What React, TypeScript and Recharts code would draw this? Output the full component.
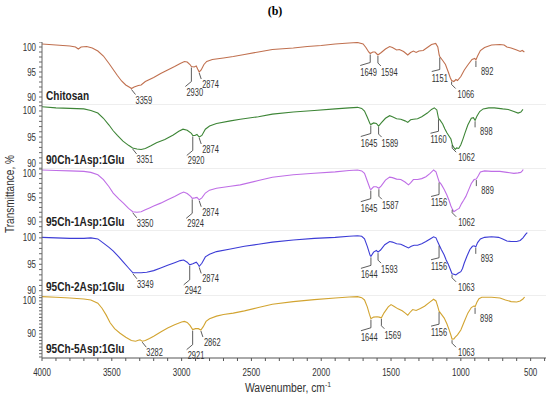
import { LineChart, Line, XAxis, YAxis, ReferenceLine, ReferenceDot } from 'recharts'

// spectra: [wavenumber cm-1, transmittance %]
const CHITOSAN: [number, number][] = [
  [4000, 100.6], [3900, 100.4], [3800, 100.2], [3760, 100.0], [3740, 99.6], [3720, 100.0], [3680, 100.1],
  [3640, 99.8], [3600, 99.2], [3560, 98.2], [3520, 96.7], [3490, 95.5], [3460, 94.3], [3430, 93.2],
  [3400, 92.4], [3370, 91.9], [3359, 91.7], [3340, 92.0], [3310, 92.3], [3290, 92.4], [3260, 93.1],
  [3200, 93.9], [3150, 94.7], [3100, 95.4], [3050, 96.1], [3010, 96.7], [2980, 97.1], [2960, 97.0],
  [2940, 96.5], [2930, 96.1], [2910, 96.0], [2895, 96.2], [2885, 95.6], [2874, 95.0], [2860, 95.4],
  [2840, 96.5], [2820, 97.1], [2780, 97.5], [2700, 97.8], [2630, 98.1], [2550, 98.5], [2450, 99.0],
  [2350, 99.5], [2200, 99.8], [2100, 100.1], [2000, 100.3], [1900, 100.6], [1800, 100.8], [1740, 100.9],
  [1700, 100.6], [1680, 99.9], [1660, 99.0], [1649, 98.7], [1630, 99.0], [1615, 99.0], [1594, 98.4],
  [1570, 98.9], [1540, 99.6], [1510, 100.1], [1490, 99.9], [1460, 99.4], [1440, 99.5], [1410, 99.1],
  [1380, 98.4], [1360, 98.9], [1340, 99.2], [1320, 98.9], [1300, 99.2], [1270, 99.3], [1240, 99.9],
  [1210, 100.5], [1180, 100.7], [1165, 100.0], [1155, 98.4], [1151, 98.1], [1130, 97.3], [1110, 96.5],
  [1090, 95.0], [1075, 93.8], [1066, 93.3], [1050, 93.1], [1035, 93.5], [1024, 93.3], [1000, 94.1],
  [975, 95.4], [950, 96.4], [920, 97.5], [900, 97.7], [892, 97.4], [880, 98.2], [860, 99.3], [830, 99.9],
  [780, 100.4], [720, 100.5], [690, 100.4], [670, 100.0], [640, 99.8], [600, 99.4], [575, 99.1],
  [560, 99.3], [545, 99.0],
]

const CH90_ASP1_GLU1: [number, number][] = [
  [4000, 100.8], [3900, 100.6], [3800, 100.5], [3700, 100.4], [3650, 100.1], [3600, 99.6], [3560, 98.6],
  [3520, 97.3], [3490, 96.2], [3460, 95.3], [3420, 94.2], [3380, 93.4], [3351, 92.9], [3320, 92.7],
  [3290, 92.6], [3260, 92.8], [3220, 93.3], [3180, 93.9], [3120, 94.5], [3060, 95.4], [3020, 96.1],
  [2990, 96.5], [2960, 96.3], [2930, 95.7], [2920, 95.3], [2905, 95.3], [2890, 95.5], [2874, 95.0],
  [2855, 95.3], [2830, 96.5], [2800, 97.1], [2750, 97.6], [2650, 98.1], [2580, 98.4], [2450, 98.9],
  [2350, 99.4], [2200, 99.8], [2050, 100.1], [1900, 100.4], [1800, 100.6], [1740, 100.7], [1710, 100.5],
  [1690, 100.0], [1670, 98.8], [1650, 97.5], [1645, 97.4], [1625, 97.7], [1605, 97.6], [1589, 97.1],
  [1570, 97.7], [1540, 98.6], [1510, 99.1], [1490, 98.9], [1460, 98.5], [1430, 98.4], [1400, 98.1],
  [1380, 97.8], [1360, 98.3], [1340, 98.4], [1310, 98.5], [1280, 98.9], [1240, 99.6], [1210, 100.3],
  [1190, 100.6], [1172, 100.2], [1160, 98.6], [1150, 98.3], [1130, 97.5], [1115, 96.6], [1100, 95.8],
  [1085, 95.2], [1071, 94.6], [1060, 93.4], [1048, 92.9], [1040, 92.6], [1030, 92.9], [1015, 92.8],
  [1000, 93.5], [985, 94.6], [970, 95.8], [950, 97.3], [925, 98.6], [910, 98.7], [898, 98.2], [885, 99.0],
  [865, 99.9], [840, 100.4], [800, 100.6], [760, 100.6], [700, 100.4], [660, 100.3], [620, 99.9],
  [590, 99.6], [570, 99.8], [555, 100.3],
]

const CH95_ASP1_GLU1: [number, number][] = [
  [4000, 100.8], [3900, 100.7], [3800, 100.6], [3700, 100.5], [3650, 100.3], [3600, 99.8], [3560, 98.8],
  [3520, 97.3], [3490, 96.0], [3450, 94.8], [3417, 93.9], [3380, 92.8], [3350, 92.1], [3320, 92.0],
  [3290, 92.1], [3260, 92.5], [3230, 92.9], [3200, 93.3], [3150, 93.9], [3100, 94.6], [3050, 95.3],
  [3010, 95.9], [2985, 96.2], [2960, 95.9], [2935, 95.3], [2924, 94.9], [2905, 95.0], [2890, 95.1],
  [2874, 94.6], [2855, 95.0], [2830, 96.0], [2800, 96.6], [2750, 97.0], [2650, 97.4], [2580, 97.7],
  [2450, 98.6], [2350, 99.3], [2200, 99.8], [2050, 100.1], [1900, 100.4], [1800, 100.7], [1740, 100.8],
  [1710, 100.6], [1690, 100.1], [1670, 98.5], [1650, 96.9], [1645, 96.7], [1625, 97.3], [1605, 97.3],
  [1587, 97.0], [1570, 97.5], [1540, 98.7], [1510, 99.3], [1490, 99.2], [1460, 98.9], [1430, 98.8],
  [1400, 98.3], [1375, 97.7], [1360, 98.1], [1340, 98.8], [1310, 98.8], [1280, 99.0], [1250, 99.4],
  [1220, 100.1], [1195, 100.8], [1178, 100.4], [1165, 99.2], [1156, 98.4], [1140, 97.8], [1120, 96.8],
  [1100, 95.6], [1085, 94.5], [1071, 93.3], [1060, 92.6], [1050, 92.1], [1040, 92.3], [1025, 92.6],
  [1012, 92.8], [995, 93.8], [980, 94.5], [964, 95.3], [945, 96.6], [925, 98.0], [905, 98.8], [889, 98.9],
  [875, 99.6], [860, 100.4], [830, 100.6], [780, 100.5], [720, 100.5], [670, 100.3], [620, 100.1],
  [590, 100.2], [571, 100.3], [560, 100.6], [553, 100.9],
]

const CH95_ASP2_GLU1: [number, number][] = [
  [4000, 100.1], [3900, 100.0], [3800, 99.9], [3700, 99.9], [3650, 100.0], [3600, 99.8], [3560, 99.0],
  [3520, 98.2], [3489, 97.5], [3450, 96.4], [3417, 95.4], [3380, 94.3], [3349, 93.4], [3320, 93.4],
  [3290, 93.4], [3250, 93.5], [3200, 93.8], [3150, 94.3], [3100, 94.8], [3050, 95.3], [3010, 95.7],
  [2985, 95.8], [2960, 95.4], [2942, 94.9], [2920, 95.1], [2895, 95.4], [2885, 95.1], [2874, 94.6],
  [2855, 95.2], [2830, 96.4], [2800, 96.9], [2750, 97.4], [2650, 97.9], [2550, 98.4], [2450, 98.8],
  [2350, 99.2], [2200, 99.6], [2050, 99.9], [1900, 100.1], [1800, 100.3], [1740, 100.4], [1710, 100.3],
  [1690, 99.8], [1670, 98.4], [1650, 96.7], [1644, 96.5], [1625, 97.3], [1605, 97.6], [1593, 97.3],
  [1575, 97.7], [1545, 98.7], [1510, 99.3], [1490, 99.2], [1460, 98.9], [1430, 98.8], [1400, 98.4],
  [1375, 98.1], [1355, 98.4], [1335, 98.6], [1310, 98.6], [1280, 98.9], [1250, 99.3], [1220, 99.8],
  [1195, 100.2], [1178, 100.0], [1165, 99.2], [1156, 98.7], [1140, 97.8], [1120, 96.8], [1105, 95.8],
  [1090, 95.0], [1075, 94.0], [1063, 93.2], [1050, 93.1], [1036, 93.0], [1020, 93.3], [1000, 93.6],
  [988, 94.2], [976, 95.2], [955, 96.6], [935, 97.8], [917, 98.4], [905, 98.5], [893, 98.3], [880, 99.1],
  [860, 99.8], [830, 100.1], [780, 100.2], [730, 100.1], [700, 99.8], [670, 99.4], [640, 99.3],
  [600, 99.3], [575, 99.5], [555, 100.0], [535, 100.7], [524, 101.0],
]

const CH95_ASP5_GLU1: [number, number][] = [
  [4000, 101.3], [3900, 101.1], [3800, 100.9], [3700, 100.6], [3650, 100.3], [3600, 99.3], [3570, 97.8],
  [3540, 95.7], [3512, 93.4], [3480, 91.6], [3441, 90.2], [3400, 89.0], [3360, 88.0], [3330, 87.8],
  [3310, 88.1], [3298, 88.2], [3282, 87.8], [3260, 88.0], [3230, 88.6], [3200, 89.3], [3150, 90.6],
  [3100, 91.8], [3050, 92.8], [3000, 93.6], [2980, 93.8], [2960, 93.5], [2940, 92.6], [2921, 91.3],
  [2900, 91.6], [2880, 91.6], [2862, 91.2], [2845, 92.2], [2825, 93.8], [2800, 94.6], [2750, 95.4],
  [2700, 95.9], [2630, 96.3], [2550, 97.0], [2450, 98.0], [2350, 99.0], [2200, 99.8], [2050, 100.4],
  [1900, 100.9], [1800, 101.2], [1740, 101.3], [1710, 101.0], [1690, 100.3], [1670, 98.2], [1655, 96.0],
  [1644, 94.6], [1625, 95.1], [1600, 95.2], [1585, 95.1], [1569, 94.9], [1550, 96.4], [1520, 98.2],
  [1500, 98.9], [1480, 98.4], [1450, 97.6], [1420, 97.0], [1400, 96.4], [1380, 95.7], [1365, 96.5],
  [1345, 97.4], [1320, 97.1], [1290, 97.7], [1260, 98.4], [1220, 99.7], [1195, 100.5], [1178, 100.0],
  [1165, 98.3], [1156, 96.9], [1140, 96.0], [1119, 94.8], [1100, 93.1], [1085, 91.4], [1071, 89.6],
  [1063, 88.4], [1050, 88.5], [1040, 89.0], [1024, 89.7], [1000, 91.2], [976, 93.7], [950, 96.3],
  [925, 98.0], [905, 98.5], [898, 98.2], [885, 99.6], [870, 100.7], [850, 101.1], [780, 101.1],
  [720, 100.9], [680, 100.3], [640, 99.8], [600, 99.7], [575, 100.0], [555, 100.6], [543, 101.2],
]

// labelled band positions, cm-1
const PEAKS_CHITOSAN = [3359, 2930, 2874, 1649, 1594, 1151, 1066, 892]
const PEAKS_90_1_1 = [3351, 2920, 2874, 1645, 1589, 1160, 1062, 898]
const PEAKS_95_1_1 = [3350, 2924, 2874, 1645, 1587, 1156, 1062, 889]
const PEAKS_95_2_1 = [3349, 2942, 2874, 1644, 1593, 1156, 1063, 893]
const PEAKS_95_5_1 = [3282, 2921, 2862, 1644, 1569, 1156, 1063, 898]

const SAMPLE_NAMES = ['Chitosan', '90Ch-1Asp:1Glu', '95Ch-1Asp:1Glu', '95Ch-2Asp:1Glu', '95Ch-5Asp:1Glu']
const X_TICKS = [4000, 3500, 3000, 2500, 2000, 1500, 1000, 500]

// leader shape for each band (same order as the peak lists): drop, dx, dy, text dx, text dy
const LEADERS = [
  [0, 4, 5, 0, 9],
  [14, -6, 5, 1, 9],
  [0, 2, 6, 1, 9],
  [8, -10, 3, 0, 10],
  [7, 3, 3, 0, 10],
  [12, -8, 2, 0, 10],
  [3, 4, 4, 2, 9],
  [6, 0, 0, 5, 8],
]

const FONT = 'Arial, "Liberation Sans", sans-serif'
const X_DOMAIN: [number, number] = [390, 4000]

const PANELS = [
  { series: CHITOSAN, peaks: PEAKS_CHITOSAN, color: '#c0704f', top: 42, h: 63, domain: [88.4, 101], labels: [90, 95, 100] },
  { series: CH90_ASP1_GLU1, peaks: PEAKS_90_1_1, color: '#3d8536', top: 105, h: 64, domain: [88.85, 101.15], labels: [90, 95, 100] },
  { series: CH95_ASP1_GLU1, peaks: PEAKS_95_1_1, color: '#bf6ee6', top: 169, h: 62, domain: [88.1, 101], labels: [90, 95, 100] },
  { series: CH95_ASP2_GLU1, peaks: PEAKS_95_2_1, color: '#3c3cd6', top: 231, h: 65, domain: [89, 101.3], labels: [90, 95, 100] },
  { series: CH95_ASP5_GLU1, peaks: PEAKS_95_5_1, color: '#d2a431', top: 296, h: 62, domain: [82.7, 101.5], labels: [90, 100] },
]

function valueAt(series: [number, number][], w: number) {
  for (let i = 0; i < series.length - 1; i++) {
    const [w0, t0] = series[i]
    const [w1, t1] = series[i + 1]
    if (w <= w0 && w >= w1) return t0 + ((w - w0) / (w1 - w0)) * (t1 - t0)
  }
  return series[series.length - 1][1]
}

// the figure uses a condensed sans face; squeeze Arial horizontally
function Narrow({ x, y, size, anchor = 'start', bold = false, sx = 0.76, fill = '#333', children }: any) {
  return (
    <text
      transform={`translate(${x},${y}) scale(${sx},1)`}
      textAnchor={anchor}
      fontSize={size}
      fontWeight={bold ? 'bold' : 'normal'}
      fontFamily={FONT}
      fill={fill}
    >
      {children}
    </text>
  )
}

function leaderShape(label: number, idx: number) {
  const [drop, dx, dy, tx, ty] = LEADERS[idx]
  return (p: any) => {
    const x = p.cx
    const y = p.cy + 1
    const ex = x + dx
    const ey = y + drop + dy
    return (
      <g>
        <polyline points={`${x},${y} ${x},${y + drop} ${ex},${ey}`} fill="none" stroke="#333" strokeWidth={0.8} />
        <Narrow x={ex + tx} y={ey + ty} size={10} sx={0.75}>
          {label}
        </Narrow>
      </g>
    )
  }
}

function Panel({ idx }: { idx: number }) {
  const p = PANELS[idx]
  const last = idx === PANELS.length - 1
  const data = p.series.map(([w, t]) => ({ w, t }))
  const minor: number[] = []
  for (let v = Math.ceil(p.domain[0]); v <= p.domain[1]; v++) minor.push(v)
  const xMinor: number[] = []
  for (let v = 400; v <= 4000; v += 100) xMinor.push(v)
  return (
    <div style={{ position: 'absolute', left: 0, top: p.top }}>
      <LineChart width={550} height={p.h + (last ? 22 : 0)} data={data} margin={{ top: 0, right: 4, bottom: 0, left: 0 }}>
        <XAxis
          type="number"
          dataKey="w"
          domain={X_DOMAIN}
          reversed
          allowDataOverflow
          hide={!last}
          height={22}
          ticks={xMinor}
          interval={0}
          tickSize={3}
          stroke="#555"
          tick={(t: any) =>
            X_TICKS.includes(t.payload.value) ? (
              <Narrow x={t.x} y={t.y + 13} size={10.5} anchor="middle">
                {t.payload.value}
              </Narrow>
            ) : (
              <g />
            )
          }
        />
        <YAxis
          type="number"
          domain={p.domain}
          allowDataOverflow
          width={42}
          ticks={minor}
          interval={0}
          tickSize={3}
          stroke="#666"
          tick={(t: any) =>
            p.labels.includes(t.payload.value) ? (
              <Narrow x={t.x - 1} y={t.y + 3.5} size={10.5} anchor="end">
                {t.payload.value}
              </Narrow>
            ) : (
              <g />
            )
          }
        />
        {!last && <ReferenceLine y={p.domain[0]} stroke="#dcdcdc" />}
        <Line type="linear" dataKey="t" stroke={p.color} strokeWidth={1.1} dot={false} isAnimationActive={false} />
        {p.peaks.map((w, i) => (
          <ReferenceDot key={w} x={w} y={valueAt(p.series, w)} r={0} shape={leaderShape(w, i)} />
        ))}
        <ReferenceDot
          x={4000}
          y={p.domain[0]}
          r={0}
          shape={(d: any) => (
            <Narrow x={d.cx + 4} y={d.cy - 5} size={12} bold sx={0.84} fill="#222">
              {SAMPLE_NAMES[idx]}
            </Narrow>
          )}
        />
      </LineChart>
    </div>
  )
}

export default function App() {
  return (
    <div style={{ position: 'absolute', left: 0, top: 0, width: 550, height: 399, background: '#fff', overflow: 'hidden' }}>
      <div style={{ position: 'absolute', left: 0, top: 4, width: 550, textAlign: 'center', fontFamily: 'Times New Roman, "Liberation Serif", serif', fontWeight: 'bold', fontSize: 12 }}>
        (b)
      </div>
      {PANELS.map((_, i) => (
        <Panel key={i} idx={i} />
      ))}
      <div
        style={{
          position: 'absolute',
          left: 10,
          top: 194,
          transform: 'translate(-50%, -50%) rotate(-90deg) scale(0.84, 1)',
          whiteSpace: 'nowrap',
          fontFamily: FONT,
          fontSize: 12,
          color: '#333',
        }}
      >
        Transmittance, %
      </div>
      <div
        style={{
          position: 'absolute',
          left: 0,
          width: 576,
          top: 380,
          textAlign: 'center',
          fontFamily: FONT,
          fontSize: 12,
          color: '#333',
          transform: 'scale(0.86, 1)',
          transformOrigin: '288px 0',
        }}
      >
        Wavenumber, cm<sup style={{ fontSize: 8 }}>-1</sup>
      </div>
    </div>
  )
}
